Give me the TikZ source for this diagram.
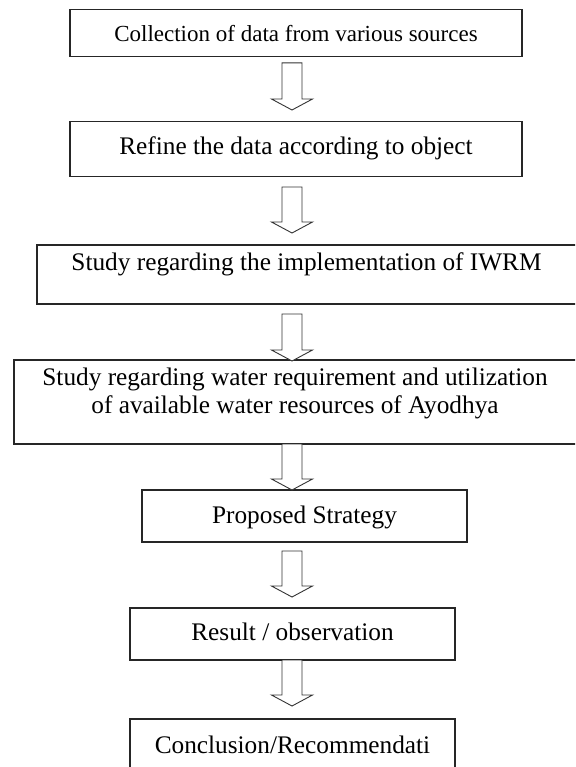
\documentclass[tikz,border=0pt]{standalone}
\usepackage{fontspec}
\setmainfont{Liberation Serif}
\usetikzlibrary{calc}
\newcommand\btxt[2]{\raisebox{#1}[0pt][0pt]{#2}}
\begin{document}
\begin{tikzpicture}[x=1pt,y=-1pt,
  box/.style={draw=black!85, line width=1.1pt, rectangle, inner sep=0pt, outer sep=0pt,
    font=\fontsize{25.3}{28}\selectfont},
  blockarrow/.style={draw=black!80, line width=0.9pt, fill=white, line join=miter,
    to path={let \p1=(\tikztostart), \p2=(\tikztotarget) in
      (\x1-10pt,\y1) -- (\x1+10pt,\y1) -- (\x1+10pt,\y2+11pt) -- (\x1+20.5pt,\y2+11pt)
      -- (\x1,\y2) -- (\x1-20.5pt,\y2+11pt) -- (\x1-10pt,\y2+11pt) -- cycle}}]
\clip (0,0) rectangle (575,767);
\fill[white] (0,0) rectangle (575,767);

\node[box, minimum width=452pt, minimum height=46.7pt, font=\fontsize{23}{28}\selectfont]
  (b1) at (296,33.3) {\btxt{-8.4pt}{Collection of data from various sources}};
\node[box, minimum width=452pt, minimum height=55pt]
  (b2) at (296,149) {\btxt{-6pt}{Refine the data according to object}};
\node[box, minimum width=548pt, minimum height=59pt]
  (b3) at (311,274.5) {\btxt{4.5pt}{Study regarding the implementation of IWRM\hspace{9pt}}};
\node[box, minimum width=571pt, minimum height=84pt]
  (b4) at (299.5,402) {\btxt{17pt}{\begin{tabular}[t]{@{}c@{}}Study regarding water requirement and utilization\\ of available water resources of Ayodhya\end{tabular}\hspace{9pt}}};
\node[box, minimum width=325pt, minimum height=52pt]
  (b5) at (304.5,516) {\btxt{-7pt}{Proposed Strategy}};
\node[box, minimum width=325pt, minimum height=52pt]
  (b6) at (292.5,634) {\btxt{-6.7pt}{Result / observation}};
\node[box, minimum width=325pt, minimum height=52pt]
  (b7) at (292.5,745) {\btxt{-8pt}{Conclusion/Recommendati}};

\coordinate (ax) at (292,0);
\coordinate (a1s) at ($(b1.south -| ax)+(0,6.3)$);
\coordinate (a1e) at ($(b2.north -| ax)+(0,-11.5)$);
\coordinate (a2s) at ($(b2.south -| ax)+(0,10.5)$);
\coordinate (a2e) at ($(b3.north -| ax)+(0,-12)$);
\coordinate (a3s) at ($(b3.south -| ax)+(0,10)$);
\coordinate (a3e) at ($(b4.north -| ax)+(0,1)$);
\coordinate (a4s) at (b4.south -| ax);
\coordinate (a4e) at (b5.north -| ax);
\coordinate (a5s) at ($(b5.south -| ax)+(0,9)$);
\coordinate (a5e) at ($(b6.north -| ax)+(0,-11)$);
\coordinate (a6s) at (b6.south -| ax);
\coordinate (a6e) at ($(b7.north -| ax)+(0,-13)$);

\draw[blockarrow] (a1s) to (a1e);
\draw[blockarrow] (a2s) to (a2e);
\draw[blockarrow] (a3s) to (a3e);
\draw[blockarrow] (a4s) to (a4e);
\draw[blockarrow] (a5s) to (a5e);
\draw[blockarrow] (a6s) to (a6e);
\end{tikzpicture}
\end{document}
